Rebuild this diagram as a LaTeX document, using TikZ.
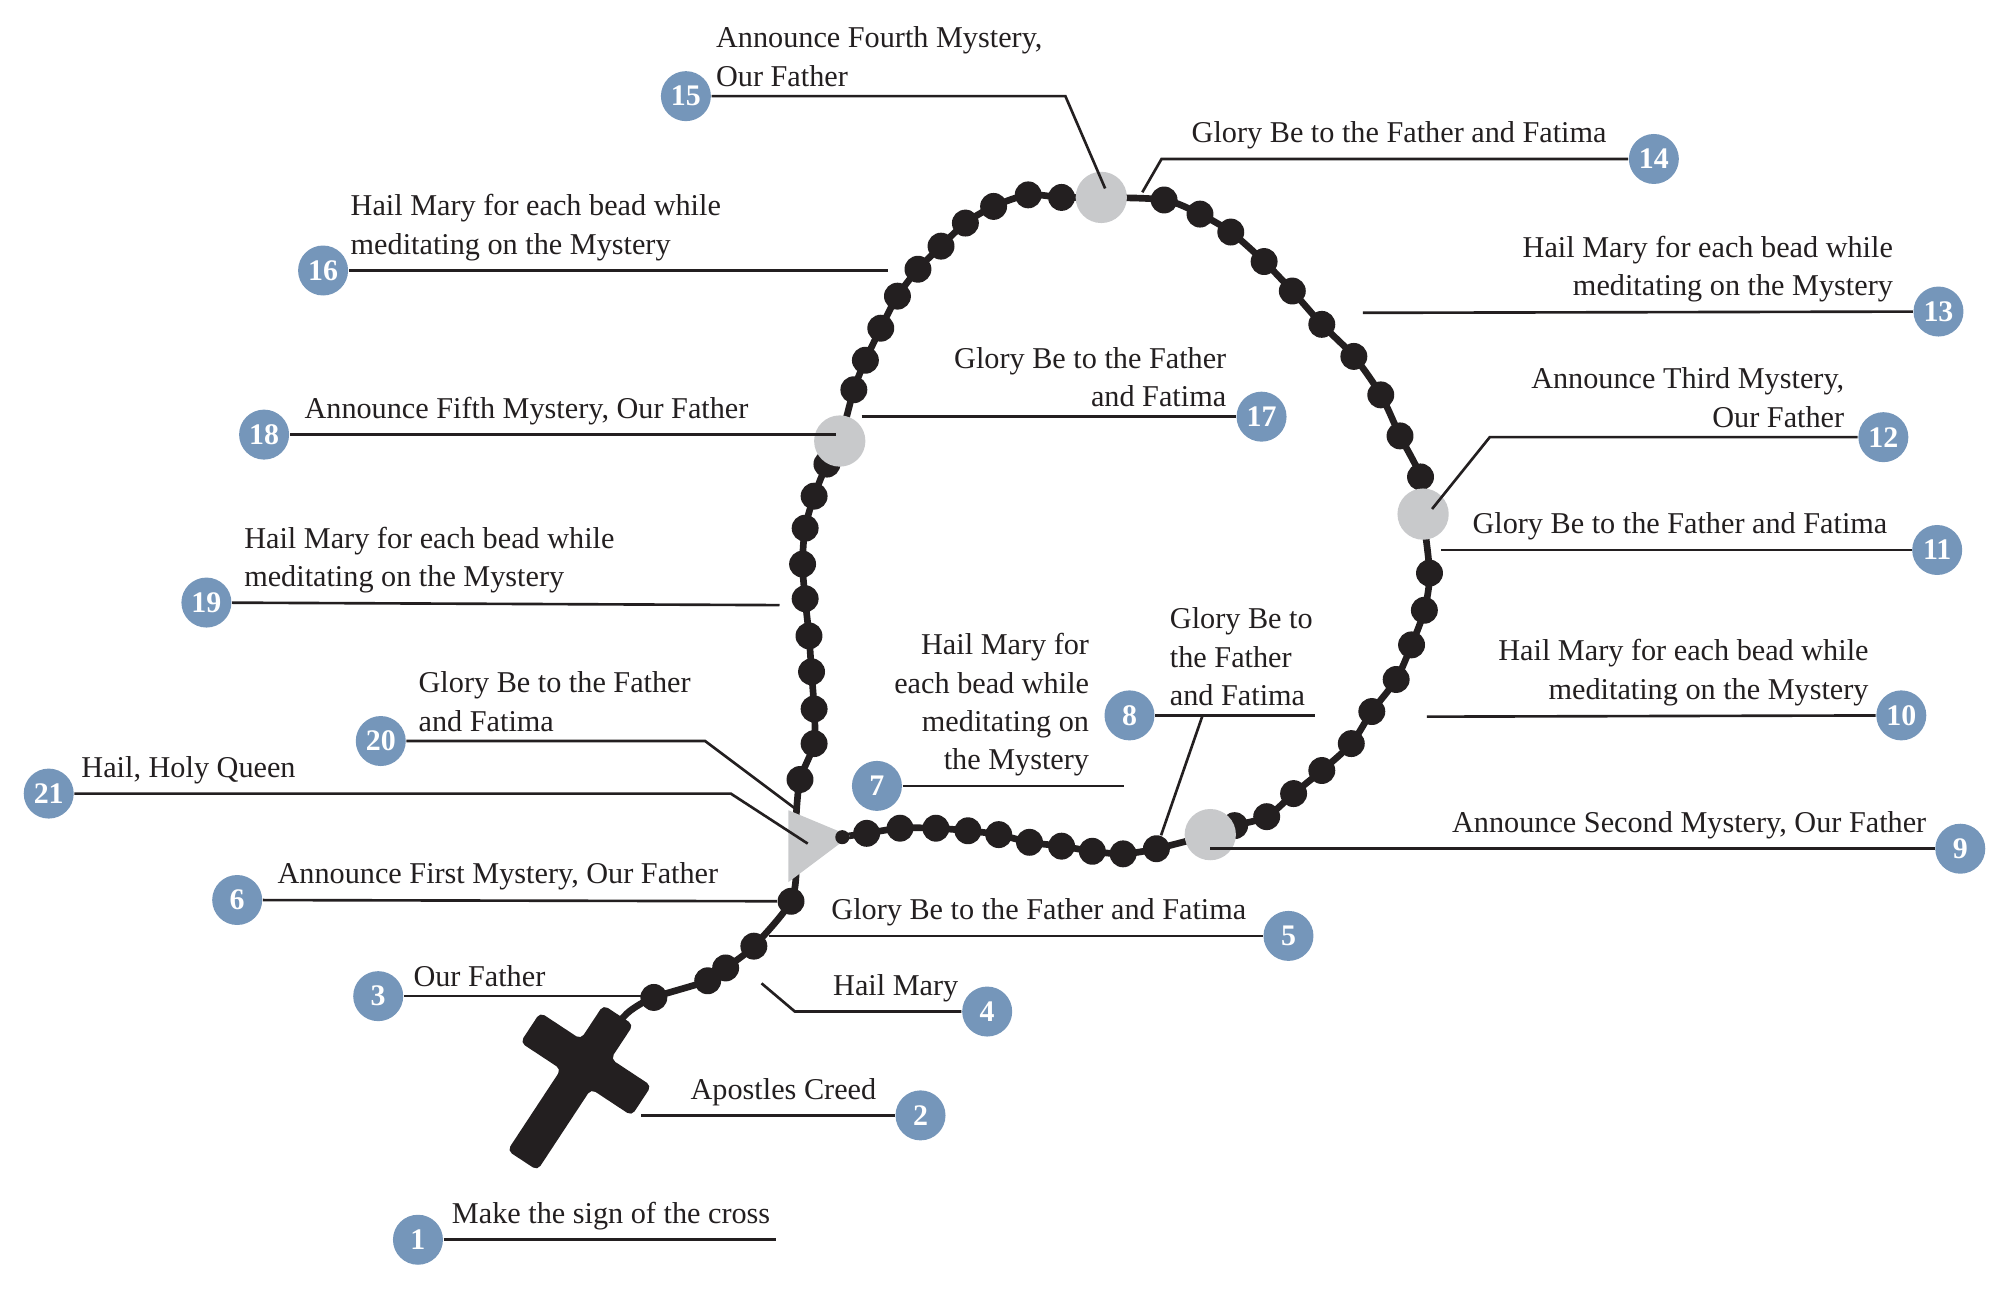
\documentclass[tikz,border=0pt]{standalone}
\usepackage{fontspec}
\setmainfont{Liberation Serif}
\definecolor{beadblack}{HTML}{231F20}
\definecolor{beadgray}{HTML}{C8C9CB}
\definecolor{numblue}{HTML}{7596BA}
\begin{document}
\begin{tikzpicture}[x=0.01282cm,y=-0.01282cm,
  bead/.style={circle,fill=beadblack,inner sep=0,minimum size=21*0.01282cm},
  gbead/.style={circle,fill=beadgray,inner sep=0,minimum size=40*0.01282cm},
  num/.style={circle,fill=numblue,text=white,inner sep=0,minimum size=39*0.01282cm,font=\fontsize{8.5}{9}\selectfont\bfseries},
  lbl/.style={inner sep=0,font=\fontsize{8.6}{10.9}\selectfont,text=beadblack},
  lead/.style={draw=beadblack,line width=0.75pt},
  cord/.style={draw=beadblack,line width=1.9pt}]
\useasboundingbox (0,0) rectangle (1560,1006);
% cord
\draw[cord] plot[smooth,tension=0.5] coordinates {(621,637) (624,608) (635,580) (635,553) (633,524) (631,496) (628,467) (626,440) (628,412) (635,387) (645,362) (655,344) (666,304) (675,281) (687,256) (700,231) (716,210) (734,192) (753,174) (775,161) (802,152) (828,154) (859,154) (908,156) (936,167) (960,181) (986,204) (1008,227) (1031,253) (1056,278) (1077,308) (1092,340) (1108,372) (1110,401) (1115,447) (1111,476) (1101,503) (1089,530) (1070,555) (1054,580) (1031,601) (1009,619) (988,637) (963,644) (944,651) (902,662) (876,666) (852,664) (828,660) (803,657) (779,651) (755,648) (730,646) (702,646) (676,650) (655,653)};
\draw[cord] plot[smooth,tension=0.5] coordinates {(621,675) (617,703) (588,738) (566,755) (552,765) (510,778) (492,788) (484,796)};
% centre piece
\fill[beadgray] (615,632) -- (663,652) -- (615,688) -- cycle;
\node[circle,fill=beadblack,inner sep=0,minimum size=11*0.01282cm] (sm) at (657,653) {};
% beads
\foreach \x/\y [count=\i] in {676/650,702/646,730/646,755/648,779/651,803/657,828/660,852/664,876/666,902/662,
 963/644,988/637,1009/619,1031/601,1054/580,1070/555,1089/530,1101/503,1111/476,1115/447,
 1108/372,1092/340,1077/308,1056/278,1031/253,1008/227,986/204,960/181,936/167,908/156,
 828/154,802/152,775/161,753/174,734/192,716/210,700/231,687/256,675/281,666/304,
 645/362,635/387,628/412,626/440,628/467,631/496,633/524,635/553,635/580,624/608,
 617/703,588/738,566/755,552/765,510/778}
  \node[bead] (b\i) at (\x,\y) {};
\node[gbead] (g1) at (944,651) {};
\node[gbead] (g2) at (1110,401) {};
\node[gbead] (g3) at (859,154) {};
\node[gbead] (g4) at (655,344) {};
% cross
\fill[beadblack,rounded corners=1.5pt] (494,799.3) -- (476.4,826) -- (508.1,846.9) -- (492.7,870.3) -- (461,849.4) -- (419.2,912.9) -- (395.8,897.5) -- (437.6,834) -- (405.9,813.1) -- (421.3,789.7) -- (453,810.6) -- (470.6,783.9) -- cycle;
\coordinate (cross) at (500,870);
% labels
\node[num] (c1) at (326,967) {1};
\node[lbl,anchor=south west] (t1) at (352,960) {Make the sign of the cross};
\coordinate (e1) at (605,967); \draw[lead] (c1) -- (e1);
\node[num] (c2) at (718,870) {2};
\node[lbl,anchor=south east] (t2) at (684,863) {Apostles Creed};
\draw[lead] (cross) -- (c2);
\node[num] (c3) at (295,777) {3};
\node[lbl,anchor=south west] (t3) at (322,770) {Our Father};
\coordinate (e3) at (502,777); \draw[lead] (c3) -- (e3);
\node[num] (c4) at (770,789) {4};
\node[lbl,anchor=south east] (t4) at (748,782) {Hail Mary};
\coordinate (k4) at (620,789); \coordinate (e4) at (594,767); \draw[lead] (c4) -- (k4) -- (e4);
\node[num] (c5) at (1005,730) {5};
\node[lbl,anchor=south west] (t5) at (648,723) {Glory Be to the Father and Fatima};
\coordinate (e5) at (600,730); \draw[lead] (e5) -- (c5);
\node[num] (c6) at (185,702) {6};
\node[lbl,anchor=south west] (t6) at (216,695) {Announce First Mystery, Our Father};
\draw[lead] (c6) -- (b51);
\node[num] (c7) at (684,613) {7};
\node[lbl,anchor=south east,align=right] (t7) at (850,606) {Hail Mary for\\each bead while\\meditating on\\the Mystery};
\coordinate (e7) at (877,613); \draw[lead] (c7) -- (e7);
\node[num] (c8) at (881,558) {8};
\node[lbl,anchor=south west,align=left] (t8) at (912,551) {Glory Be to\\the Father\\and Fatima};
\coordinate (e8) at (1026,558); \coordinate (k8) at (938,558); \draw[lead] (c8) -- (e8);
\draw[lead] (k8) -- (b10);
\node[num] (c9) at (1529,662) {9};
\node[lbl,anchor=south east] (t9) at (1503,655) {Announce Second Mystery, Our Father};
\coordinate (s9) at (944,662); \draw[lead] (s9) -- (c9);
\node[num] (c10) at (1483,558) {10};
\node[lbl,anchor=south east,align=right] (t10) at (1458,551) {Hail Mary for each bead while\\meditating on the Mystery};
\coordinate (s10) at (1113,559); \draw[lead] (s10) -- (c10);
\node[num] (c11) at (1511,429) {11};
\node[lbl,anchor=south west] (t11) at (1148,422) {Glory Be to the Father and Fatima};
\coordinate (s11) at (1124,429); \draw[lead] (s11) -- (c11);
\node[num] (c12) at (1469,341) {12};
\node[lbl,anchor=south east,align=right] (t12) at (1439,334) {Announce Third Mystery,\\Our Father};
\coordinate (k12) at (1162,341); \coordinate (e12) at (1117,397); \draw[lead] (c12) -- (k12) -- (e12);
\node[num] (c13) at (1512,243) {13};
\node[lbl,anchor=south east,align=right] (t13) at (1477,236) {Hail Mary for each bead while\\meditating on the Mystery};
\coordinate (s13) at (1063,244); \draw[lead] (s13) -- (c13);
\node[num] (c14) at (1290,124) {14};
\node[lbl,anchor=south west] (t14) at (929,117) {Glory Be to the Father and Fatima};
\coordinate (k14) at (906,124); \coordinate (e14) at (891,150); \draw[lead] (c14) -- (k14) -- (e14);
\node[num] (c15) at (535,75) {15};
\node[lbl,anchor=south west,align=left] (t15) at (558,68) {Announce Fourth Mystery,\\Our Father};
\coordinate (k15) at (831,75); \coordinate (e15) at (862,147); \draw[lead] (c15) -- (k15) -- (e15);
\node[num] (c16) at (252,211) {16};
\node[lbl,anchor=south west,align=left] (t16) at (273,204) {Hail Mary for each bead while\\meditating on the Mystery};
\coordinate (e16) at (693,211); \draw[lead] (c16) -- (e16);
\node[num] (c17) at (984,325) {17};
\node[lbl,anchor=south east,align=right] (t17) at (957,318) {Glory Be to the Father\\and Fatima};
\coordinate (s17) at (672,325); \draw[lead] (s17) -- (c17);
\node[num] (c18) at (206,339) {18};
\node[lbl,anchor=south west] (t18) at (237,332) {Announce Fifth Mystery, Our Father};
\coordinate (e18) at (652,339); \draw[lead] (c18) -- (e18);
\node[num] (c19) at (161,470) {19};
\node[lbl,anchor=south west,align=left] (t19) at (190,463) {Hail Mary for each bead while\\meditating on the Mystery};
\coordinate (e19) at (608,472); \draw[lead] (c19) -- (e19);
\node[num] (c20) at (297,578) {20};
\node[lbl,anchor=south west,align=left] (t20) at (326,571) {Glory Be to the Father\\and Fatima};
\coordinate (k20) at (550,578); \coordinate (e20) at (622,632); \draw[lead] (c20) -- (k20) -- (e20);
\node[num] (c21) at (38,619) {21};
\node[lbl,anchor=south west] (t21) at (63,612) {Hail, Holy Queen};
\coordinate (k21) at (570,619); \coordinate (e21) at (630,658); \draw[lead] (c21) -- (k21) -- (e21);
\end{tikzpicture}
\end{document}
